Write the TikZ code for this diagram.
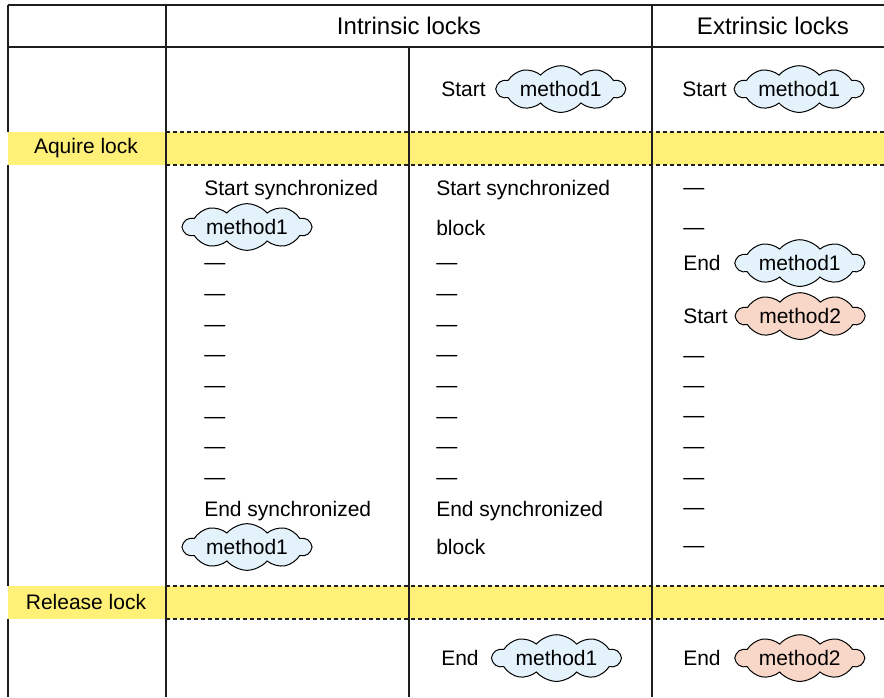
\documentclass[tikz,border=0pt]{standalone}
\usepackage{fontspec}
\setmainfont{Liberation Sans}
\usepackage{xcolor}
\usepackage{tikz}
\usetikzlibrary{positioning, shapes.symbols}

\definecolor{lockyellow}{RGB}{255,241,120}
\definecolor{cloudblue}{RGB}{228,242,252}
\definecolor{cloudred}{RGB}{249,215,200}
\definecolor{ruleblack}{RGB}{30,30,30}

\begin{document}
\begin{tikzpicture}[
  x=0.75pt, y=-0.75pt,
  txt/.style={anchor=west, inner sep=0pt, text height=11.3pt, text depth=0pt,
              font=\fontsize{15.75}{18}\selectfont},
  dsh/.style={txt, yshift=1.35pt},
  head/.style={font=\fontsize{18}{21}\selectfont},
  lock/.style={font=\fontsize{15.75}{18}\selectfont},
  meth/.style={cloud, cloud puffs=10, cloud puff arc=100, cloud ignores aspect,
               draw=black, line width=0.75pt, minimum width=96pt, minimum height=35pt,
               inner sep=0pt, font=\fontsize{15.75}{18}\selectfont},
  m1/.style={meth, fill=cloudblue},
  m2/.style={meth, fill=cloudred},
  tabline/.style={draw=ruleblack, line width=1pt},
  bandline/.style={draw=ruleblack, line width=0.9pt, dash pattern=on 3pt off 2.25pt}
]
  \useasboundingbox (0,0) rectangle (884,697);

  %--- Lock bands ---
  \fill[lockyellow] (8,132) rectangle (884,165);
  \fill[lockyellow] (8,586) rectangle (884,619);
  \draw[bandline] (166,132) -- (884,132) (166,165) -- (884,165);
  \draw[bandline] (166,586) -- (884,586) (166,619) -- (884,619);

  %--- Table rules ---
  \draw[tabline] (8,5) -- (884,5);
  \draw[tabline] (8,47) -- (884,47);
  \draw[tabline] (8,5) -- (8,132) (8,165) -- (8,586) (8,619) -- (8,697);
  \draw[tabline] (166,5) -- (166,697);
  \draw[tabline] (409,47) -- (409,697);
  \draw[tabline] (652,5) -- (652,697);

  %--- Headers ---
  \node[head] (intr) at (409,26) {Intrinsic locks};
  \node[head] (extr) at (773,26) {Extrinsic locks};
  \node[lock] (acq) at (86,148) {Aquire lock};
  \node[lock] (rel) at (86,602) {Release lock};

  %--- First row ---
  \node[txt] (s3) at (441,89) {Start};
  \node[m1, right=7pt of s3] (s3m) {method1};
  \node[txt] (s4) at (682,89) {Start};
  \node[m1, right=5pt of s4] (s4m) {method1};

  %--- Synchronized method ---
  \node[txt] (c2s) at (204,188) {Start synchronized};
  \node[m1] (c2m) at (247,227) {method1};
  \foreach \y [count=\i] in {264,295,326,356,387,418,448,479}
    \node[dsh] (c2d\i) at (204,\y) {—};
  \node[txt] (c2e) at (204,509) {End synchronized};
  \node[m1] (c2n) at (247,547) {method1};

  %--- Synchronized block ---
  \node[txt] (c3s) at (436,188) {Start synchronized};
  \node[txt] (c3b) at (436,228) {block};
  \foreach \y [count=\i] in {264,295,326,356,387,418,448,479}
    \node[dsh] (c3d\i) at (436,\y) {—};
  \node[txt] (c3e) at (436,509) {End synchronized};
  \node[txt] (c3f) at (436,547) {block};

  %--- Extrinsic ---
  \foreach \y [count=\i] in {189,229}
    \node[dsh] (c4a\i) at (683,\y) {—};
  \node[txt] (c4e) at (683,263) {End};
  \node[m1, right=10pt of c4e] (c4em) {method1};
  \node[txt] (c4s) at (683,316) {Start};
  \node[m2, right=5pt of c4s] (c4sm) {method2};
  \foreach \y [count=\i] in {357,387,417,448,479,509,547}
    \node[dsh] (c4b\i) at (683,\y) {—};

  %--- Last row ---
  \node[txt] (r3) at (441,658) {End};
  \node[m1, right=9pt of r3] (r3m) {method1};
  \node[txt] (r4) at (683,658) {End};
  \node[m2, right=10pt of r4] (r4m) {method2};

\end{tikzpicture}
\end{document}
